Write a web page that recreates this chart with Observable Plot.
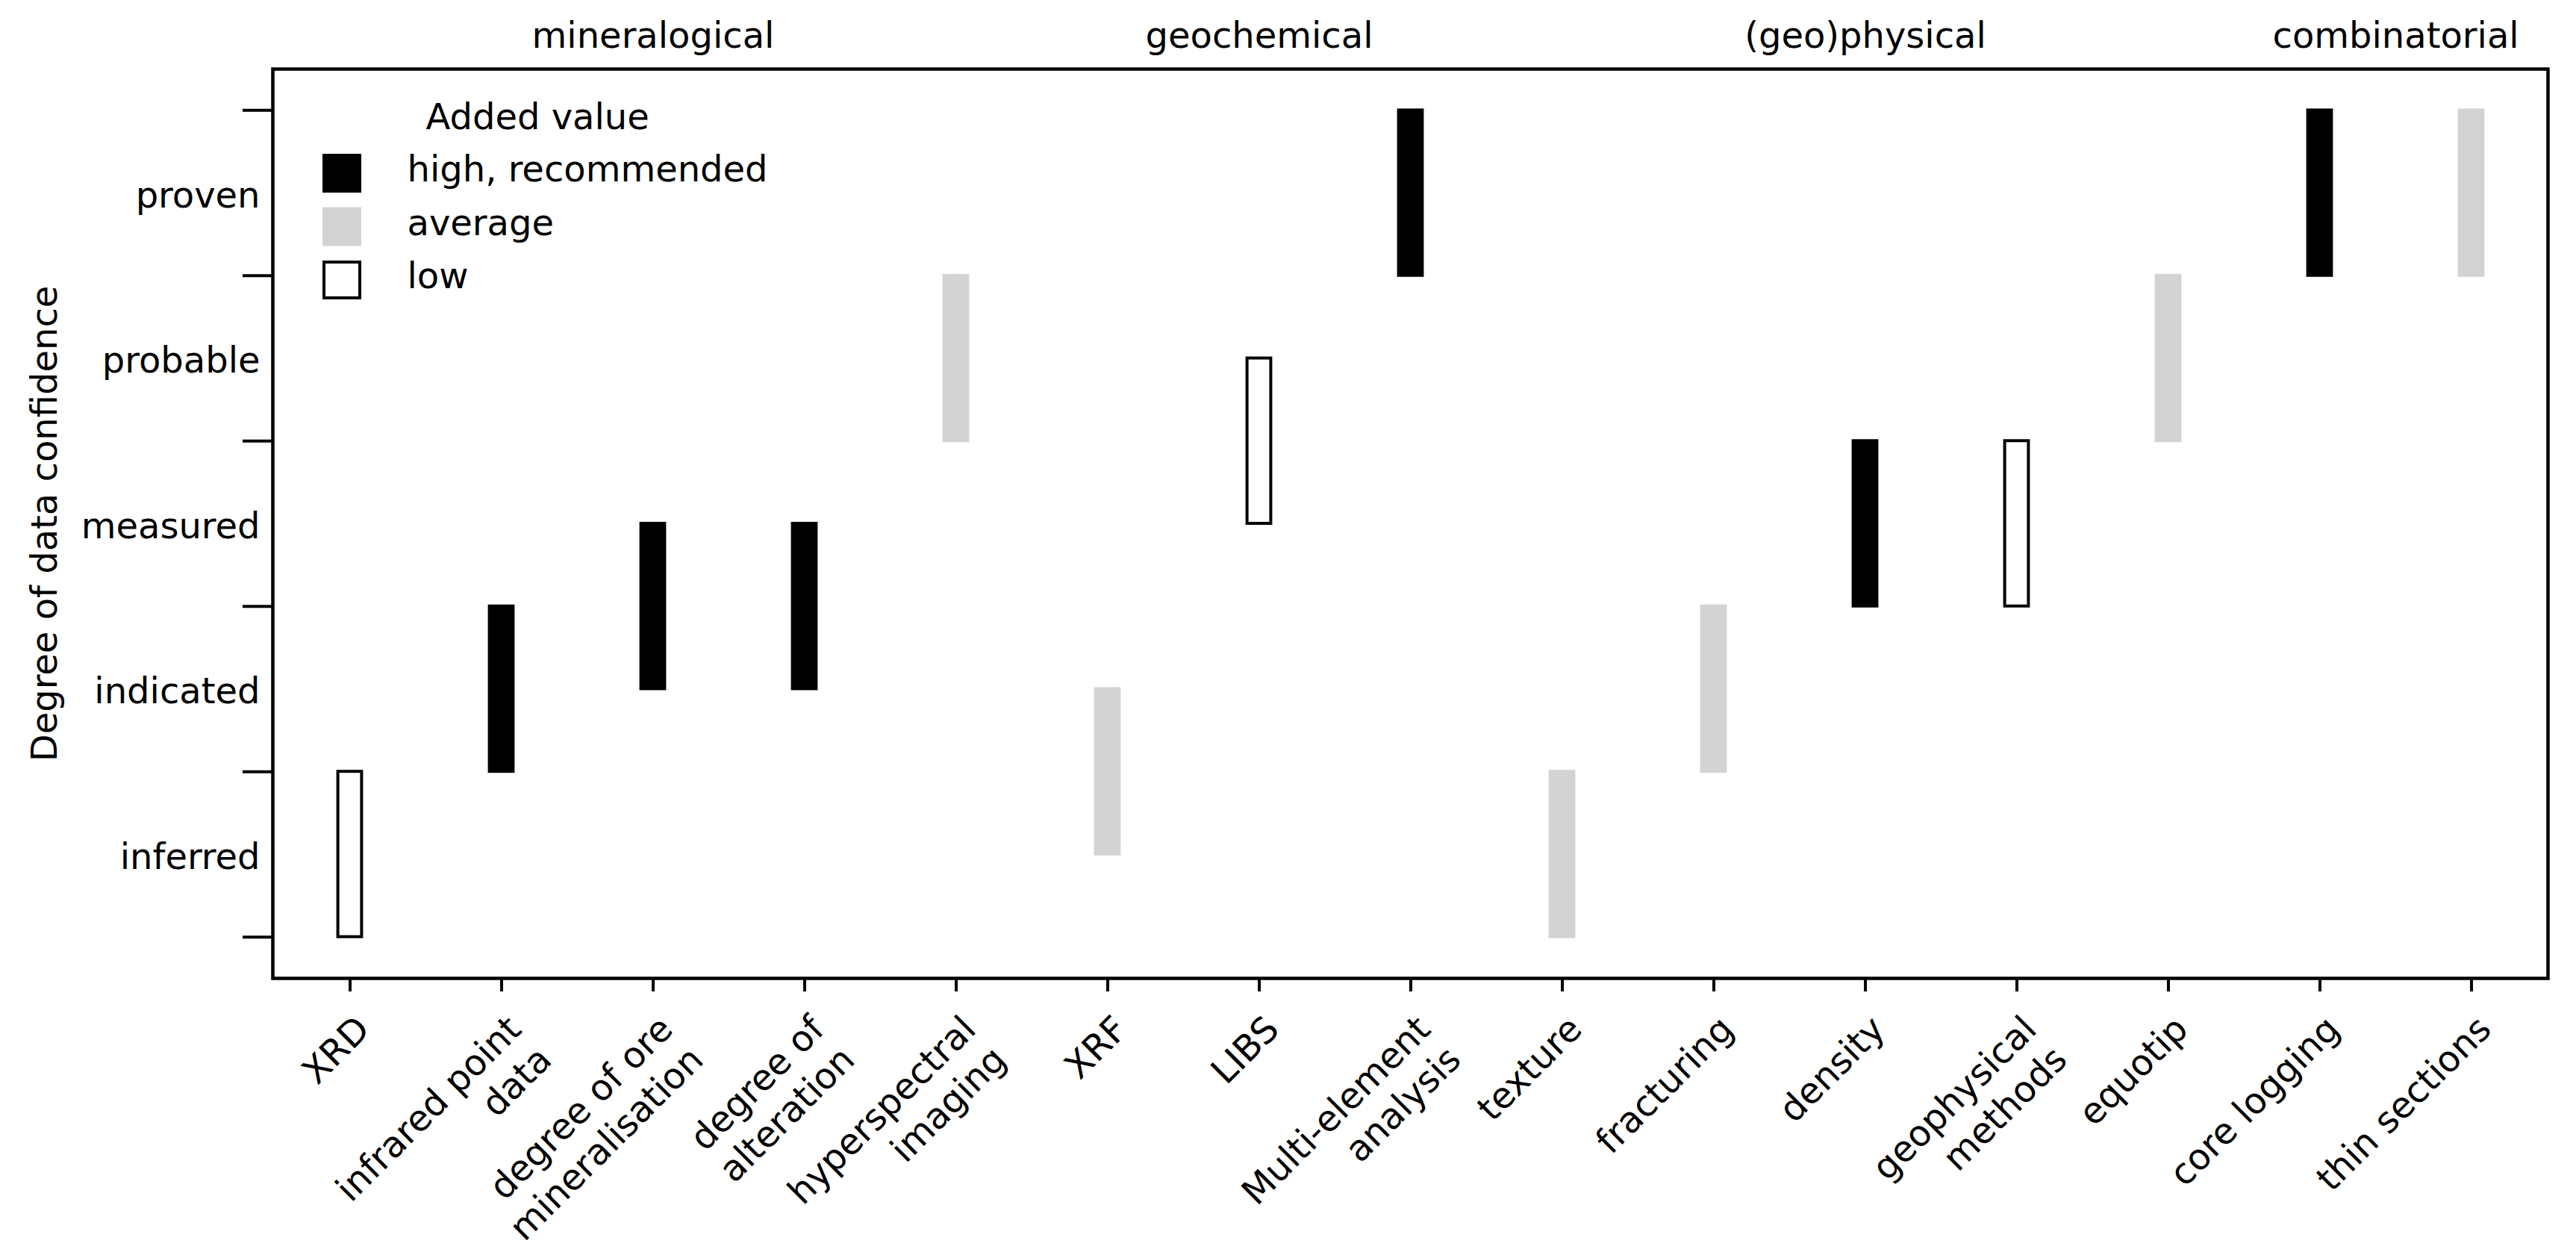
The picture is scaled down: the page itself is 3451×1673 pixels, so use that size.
<!DOCTYPE html>
<html>
<head>
<meta charset="utf-8">
<script src="https://cdn.jsdelivr.net/npm/d3@7"></script>
<script src="https://cdn.jsdelivr.net/npm/@observablehq/plot@0.6"></script>
<style>
  html, body { margin: 0; padding: 0; background: #fff; }
  svg { display: block; }
</style>
</head>
<body>
<div id="chart"></div>
<script>
// ---- data ----
const categories = ["XRD", "infrared point data", "degree of ore mineralisation", "degree of alteration",
  "hyperspectral imaging", "XRF", "LIBS", "Multi-element analysis", "texture", "fracturing",
  "density", "geophysical methods", "equotip", "core logging", "thin sections"];
const tickLabels = ["XRD", "infrared point\ndata", "degree of ore\nmineralisation", "degree of\nalteration",
  "hyperspectral\nimaging", "XRF", "LIBS", "Multi-element\nanalysis", "texture", "fracturing",
  "density", "geophysical\nmethods", "equotip", "core logging", "thin sections"];
const lower = [0, 1, 1.5, 1.5, 3, 0.5, 2.5, 4, 0, 1, 2, 2, 3, 4, 4];
const upper = [1, 2, 2.5, 2.5, 4, 1.5, 3.5, 5, 1, 2, 3, 3, 4, 5, 5];
const addedValue = ["low", "high", "high", "high", "average", "average", "low", "high",
  "average", "average", "high", "low", "average", "high", "average"];
const confidenceLevels = ["inferred", "indicated", "measured", "probable", "proven"];
const groupNames = ["mineralogical", "geochemical", "(geo)physical", "combinatorial"];
const groupFirst = ["XRD", "XRF", "texture", "core logging"];
const groupLast = ["hyperspectral imaging", "Multi-element analysis", "equotip", "thin sections"];
const legendValues = ["high", "average", "low"];
const legendLabels = ["high, recommended", "average", "low"];
const legendTitle = "Added value";
const yTitle = "Degree of data confidence";

// ---- styles ----
const fillOf = {high: "black", average: "lightgray", low: "white"};
const strokeOf = {high: "black", average: "lightgray", low: "black"};
const W = 3451, H = 1673, mL = 365, mR = 38, mT = 92, mB = 363;
const FS = 48;
const bandwidth = (W - mL - mR) / categories.length;
const barWidth = 32;
const inset = (bandwidth - barWidth) / 2;

const rows = categories.map((c, i) => ({category: c, lower: lower[i], upper: upper[i], value: addedValue[i]}));

const groupMarks = groupNames.map((name, g) => {
  const a = categories.indexOf(groupFirst[g]);
  const b = categories.indexOf(groupLast[g]);
  const mid = (a + b) / 2;
  const base = Math.floor(mid);
  return Plot.text([name], {
    x: [categories[base]], text: d => d, frameAnchor: "top",
    dx: (mid - base) * bandwidth, dy: -29, lineAnchor: "bottom", fontSize: FS
  });
});

const legendMarks = [
  Plot.text([legendTitle], {text: d => d, frameAnchor: "top-left", dx: 205, dy: 80,
    lineAnchor: "bottom", textAnchor: "start", fontSize: FS})
];
legendValues.forEach((v, i) => {
  const dy = 139.5 + i * 71.5;
  legendMarks.push(Plot.dot([v], {frameAnchor: "top-left", dx: 92.5, dy, symbol: "square",
    r: 48 / Math.sqrt(Math.PI), fill: fillOf[v], stroke: strokeOf[v], strokeWidth: 4}));
  legendMarks.push(Plot.text([legendLabels[i]], {text: d => d, frameAnchor: "top-left", dx: 180, dy: dy - 4,
    lineAnchor: "middle", textAnchor: "start", fontSize: FS}));
});

const chart = Plot.plot({
  width: W, height: H,
  marginLeft: mL, marginRight: mR, marginTop: mT, marginBottom: mB,
  style: {fontFamily: "DejaVu Sans", fontSize: FS + "px", color: "black", background: "white"},
  x: {type: "band", domain: categories, padding: 0},
  y: {domain: [-0.25, 5.25]},
  color: {type: "identity"},
  marks: [
    Plot.barY(rows, {
      x: "category", y1: "lower", y2: "upper",
      fill: d => fillOf[d.value], stroke: d => strokeOf[d.value], strokeWidth: 4,
      insetLeft: inset, insetRight: inset
    }),
    Plot.axisY({ticks: d3.range(0, 6), tickSize: 40, strokeWidth: 4, text: null, label: null}),
    Plot.axisY({ticks: confidenceLevels.map((_, i) => i + 0.5), tickSize: 0, tickPadding: 17,
      tickFormat: d => confidenceLevels[Math.round(d - 0.5)], fontSize: FS, dy: 4, label: null}),
    Plot.axisX({tickSize: 18, strokeWidth: 4, text: null, label: null}),
    Plot.axisX({tickSize: 0, tickPadding: 42, tickRotate: -45, textAnchor: "end", lineAnchor: "top",
      lineHeight: 1.2, fontSize: FS, tickFormat: d => tickLabels[categories.indexOf(d)], label: null}),
    Plot.text([yTitle], {text: d => d, frameAnchor: "left", dx: -290, rotate: -90,
      lineAnchor: "bottom", textAnchor: "middle", fontSize: FS}),
    ...groupMarks,
    ...legendMarks,
    Plot.frame({strokeWidth: 4.5})
  ]
});
document.getElementById("chart").appendChild(chart);
</script>
</body>
</html>
